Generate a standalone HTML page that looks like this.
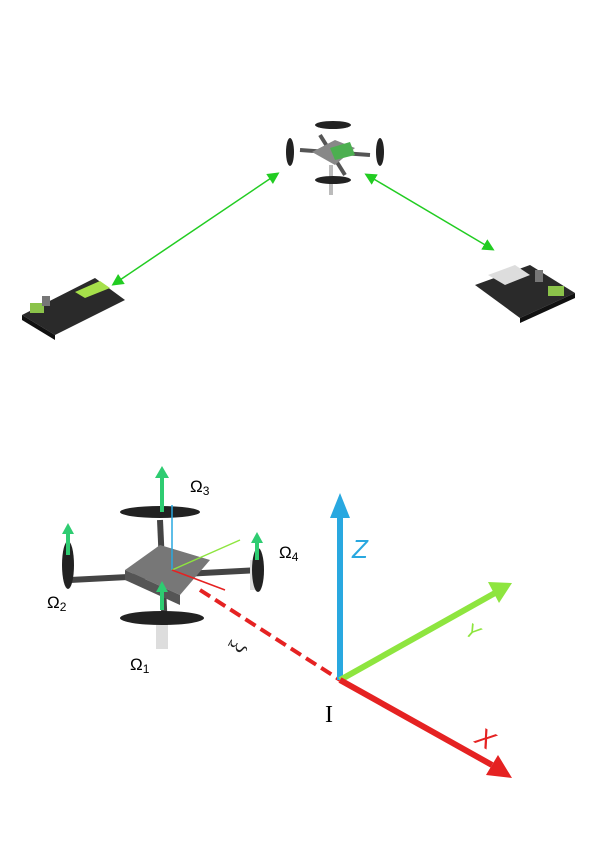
<!DOCTYPE html>
<html><head><meta charset="utf-8"><style>
html,body{margin:0;padding:0;background:#fff;}
svg{display:block;}
</style></head><body>
<svg width="600" height="849" viewBox="0 0 600 849" xmlns="http://www.w3.org/2000/svg">
<defs>
<marker id="ga" markerWidth="8" markerHeight="8" refX="6" refY="4" orient="auto-start-reverse"><path d="M0,0 L8,4 L0,8 z" fill="#22cc22"/></marker>
</defs>
<!-- top drone -->
<g>
<rect x="329" y="165" width="4" height="30" fill="#bbb"/>
<line x1="300" y1="150" x2="370" y2="155" stroke="#555" stroke-width="4"/>
<line x1="320" y1="135" x2="345" y2="175" stroke="#555" stroke-width="4"/>
<polygon points="312,152 335,140 355,148 335,165" fill="#888"/>
<polygon points="330,148 350,142 355,155 335,160" fill="#4caf50"/>
<ellipse cx="290" cy="152" rx="4" ry="14" fill="#222"/>
<ellipse cx="380" cy="152" rx="4" ry="14" fill="#222"/>
<ellipse cx="333" cy="125" rx="18" ry="4" fill="#222"/>
<ellipse cx="333" cy="180" rx="18" ry="4" fill="#222"/>
</g>
<line x1="277" y1="174" x2="114" y2="284" stroke="#22cc22" stroke-width="1.5" marker-start="url(#ga)" marker-end="url(#ga)"/>
<line x1="367" y1="175" x2="492" y2="249" stroke="#22cc22" stroke-width="1.5" marker-start="url(#ga)" marker-end="url(#ga)"/>
<g>
<polygon points="22,315 95,278 125,300 55,335" fill="#2a2a2a"/>
<polygon points="22,315 55,335 55,340 22,320" fill="#111"/>
<polygon points="75,292 100,281 110,288 85,298" fill="#a6e04a"/>
<rect x="30" y="303" width="14" height="10" fill="#8bc34a"/>
<rect x="42" y="296" width="8" height="10" fill="#777"/>
</g>
<g>
<polygon points="475,285 530,265 575,293 520,318" fill="#2a2a2a"/>
<polygon points="520,318 575,293 575,298 520,323" fill="#111"/>
<polygon points="488,275 515,265 530,275 505,285" fill="#ddd"/>
<rect x="548" y="286" width="16" height="10" fill="#8bc34a"/>
<rect x="535" y="270" width="8" height="12" fill="#777"/>
</g>
<!-- bottom drone -->
<g>
<line x1="70" y1="580" x2="260" y2="570" stroke="#444" stroke-width="6"/>
<line x1="160" y1="520" x2="165" y2="630" stroke="#444" stroke-width="6"/>
<rect x="156" y="625" width="12" height="24" fill="#ddd"/>
<rect x="250" y="560" width="10" height="30" fill="#ddd"/>
<polygon points="125,570 160,545 210,560 180,595" fill="#777"/>
<polygon points="125,570 180,595 180,605 125,580" fill="#555"/>
<ellipse cx="160" cy="512" rx="40" ry="6" fill="#222"/>
<ellipse cx="162" cy="618" rx="42" ry="7" fill="#222"/>
<ellipse cx="68" cy="565" rx="6" ry="24" fill="#222"/>
<ellipse cx="258" cy="570" rx="6" ry="22" fill="#222"/>
<line x1="162" y1="512" x2="162" y2="475" stroke="#2ecc71" stroke-width="4"/><polygon points="155,478 162,466 169,478" fill="#2ecc71"/>
<line x1="68" y1="555" x2="68" y2="530" stroke="#2ecc71" stroke-width="4"/><polygon points="62,534 68,523 74,534" fill="#2ecc71"/>
<line x1="257" y1="560" x2="257" y2="540" stroke="#2ecc71" stroke-width="4"/><polygon points="251,543 257,532 263,543" fill="#2ecc71"/>
<line x1="162" y1="610" x2="162" y2="588" stroke="#2ecc71" stroke-width="4"/><polygon points="156,592 162,581 168,592" fill="#2ecc71"/>
<line x1="172" y1="570" x2="172" y2="505" stroke="#29a8e0" stroke-width="1.5"/>
<line x1="172" y1="570" x2="240" y2="540" stroke="#8ee53f" stroke-width="1.5"/>
<line x1="172" y1="570" x2="225" y2="590" stroke="#e52222" stroke-width="1.5"/>
</g>
<text x="190" y="492" font-family="Liberation Sans, sans-serif" font-size="17">Ω<tspan font-size="12" dy="3">3</tspan></text>
<text x="279" y="558" font-family="Liberation Sans, sans-serif" font-size="17">Ω<tspan font-size="12" dy="3">4</tspan></text>
<text x="47" y="608" font-family="Liberation Sans, sans-serif" font-size="17">Ω<tspan font-size="12" dy="3">2</tspan></text>
<text x="130" y="670" font-family="Liberation Sans, sans-serif" font-size="17">Ω<tspan font-size="12" dy="3">1</tspan></text>
<!-- inertial frame -->
<line x1="200" y1="590" x2="340" y2="680" stroke="#e52222" stroke-width="4" stroke-dasharray="12,6"/>
<text x="232" y="650" font-family="Liberation Serif, serif" font-size="22" fill="#222" transform="rotate(-60 240 645)">ξ</text>
<g><line x1="340" y1="680" x2="340" y2="515" stroke="#29a8e0" stroke-width="6"/><polygon points="330,518 340,493 350,518" fill="#29a8e0"/></g>
<g><line x1="340" y1="680" x2="495" y2="593" stroke="#8ee53f" stroke-width="6"/><polygon points="488,582 512,583 499,603" fill="#8ee53f"/></g>
<g><line x1="340" y1="680" x2="492" y2="765" stroke="#e52222" stroke-width="6"/><polygon points="486,775 512,778 498,755" fill="#e52222"/></g>
<text x="352" y="558" font-family="Liberation Sans, sans-serif" font-size="26" font-style="italic" fill="#29a8e0">Z</text>
<text x="466" y="640" font-family="Liberation Sans, sans-serif" font-size="20" font-style="italic" fill="#8ee53f" transform="rotate(30 476 632)">Y</text>
<text x="476" y="748" font-family="Liberation Sans, sans-serif" font-size="26" font-style="italic" fill="#e52222" transform="rotate(30 486 740)">X</text>
<text x="325" y="722" font-family="Liberation Serif, serif" font-size="24">I</text>
</svg>
</body></html>
